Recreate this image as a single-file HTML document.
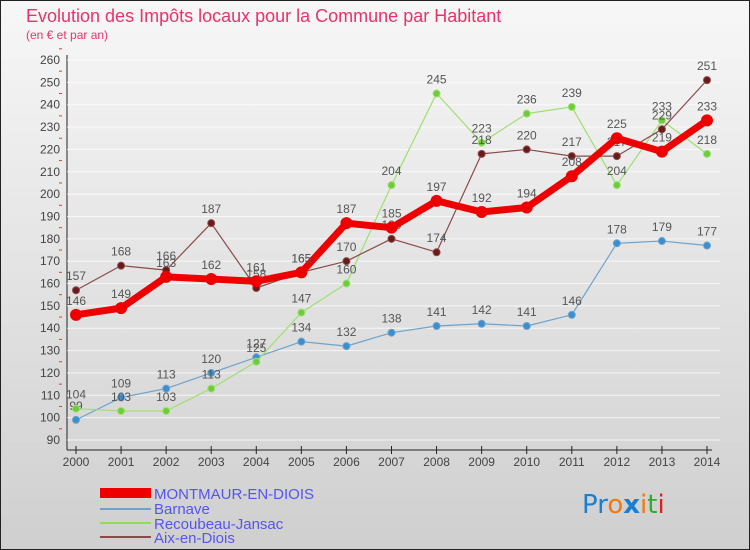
<!DOCTYPE html>
<html><head><meta charset="utf-8"><style>
body{margin:0;width:750px;height:550px;overflow:hidden;font-family:"Liberation Sans",sans-serif}
svg{display:block}
</style></head><body>
<svg id="chart" width="750" height="550" xmlns="http://www.w3.org/2000/svg">
<defs><linearGradient id="bg" x1="0" y1="0" x2="0" y2="1"><stop offset="0" stop-color="#f7f7f7"/><stop offset="1" stop-color="#cfcfcf"/></linearGradient></defs>
<rect x="0.5" y="0.5" width="749" height="549" fill="url(#bg)" stroke="#222"/>
<text x="26" y="22" font-size="18" fill="#e8336a">Evolution des Impôts locaux pour la Commune par Habitant</text>
<text x="26" y="39" font-size="12" fill="#e8336a">(en € et par an)</text>
<g id="axes"></g>
<g id="series"></g>
<g id="legend">
<rect x="100" y="488" width="51" height="10" fill="#e00"/>
<text x="154" y="499" font-size="15" fill="#5555ee">MONTMAUR-EN-DIOIS</text>
<rect x="100" y="508" width="51" height="2" fill="#6fa3cc"/>
<text x="154" y="514" font-size="15" fill="#5555ee">Barnave</text>
<rect x="100" y="522" width="51" height="2" fill="#8fdc5a"/>
<text x="154" y="529" font-size="15" fill="#5555ee">Recoubeau-Jansac</text>
<rect x="100" y="536" width="51" height="2" fill="#8b4a4a"/>
<text x="154" y="543" font-size="15" fill="#5555ee">Aix-en-Diois</text>
</g>
<text x="582" y="513" font-size="26" font-family="DejaVu Sans,sans-serif"><tspan fill="#1a7fd0">Pr</tspan><tspan fill="#f07a10">o</tspan><tspan fill="#1a7fd0" font-weight="bold">x</tspan><tspan fill="#f07a10">i</tspan><tspan fill="#33aa33">t</tspan><tspan fill="#e02020">i</tspan></text>
</svg>
<script>
const years=[2000,2001,2002,2003,2004,2005,2006,2007,2008,2009,2010,2011,2012,2013,2014];
const montmaur=[146,149,163,162,161,165,187,185,197,192,194,208,225,219,233];
const barnave=[99,109,113,120,127,134,132,138,141,142,141,146,178,179,177];
const recoubeau=[104,103,103,113,125,147,160,204,245,223,236,239,204,233,218];
const aix=[157,168,166,187,158,165,170,180,174,218,220,217,217,229,251];
const yTicks=[90,100,110,120,130,140,150,160,170,180,190,200,210,220,230,240,250,260];
const NS="http://www.w3.org/2000/svg";
function X(i){return 76+i*(707-76)/(years.length-1);}
function Y(v){return 60+(260-v)*(440-60)/170;}
function mk(t,a,p){const e=document.createElementNS(NS,t);for(const k in a)e.setAttribute(k,a[k]);p.appendChild(e);return e;}
const ax=document.getElementById('axes');
const yl=mk('line',{x1:67,y1:55,x2:67,y2:450,stroke:'#222'},ax);


yTicks.forEach(v=>{
 const g=mk('line',{x1:67,y1:Y(v),x2:720,y2:Y(v),stroke:'#fff','stroke-width':1,'stroke-opacity':0.7},ax);
 
 
 const t=mk('text',{x:60,y:Y(v)+4,'font-size':12,'text-anchor':'end',fill:'#444'},ax);
 
 
 t.textContent=v;
 const m=mk('line',{x1:59,y1:Y(v+5),x2:62,y2:Y(v+5),stroke:'#e33'},ax);
 
 
});
const xl=mk('line',{x1:67,y1:450,x2:712,y2:450,stroke:'#222'},ax);


years.forEach((y,i)=>{
 const k=mk('line',{x1:X(i),y1:446,x2:X(i),y2:454,stroke:'#222'},ax);
 
 
 const t=mk('text',{x:X(i),y:466,'font-size':12,'text-anchor':'middle',fill:'#444'},ax);
 
 
 t.textContent=y;
});
const sg=document.getElementById('series');
function draw(vals,name,color,dot,w,r){
 const g=mk('g',{},sg);
 
 
 const p=mk('polyline',{points:vals.map((v,i)=>X(i)+','+Y(v)).join(' '),fill:'none',stroke:color,'stroke-width':w,'stroke-linejoin':'round'},g);
 
 
 vals.forEach((v,i)=>{
  const c=mk('circle',{cx:X(i),cy:Y(v),r:r,fill:dot,stroke:color,'stroke-width':1},g);
  
  
  const t=mk('text',{x:X(i),y:Y(v)-10,'font-size':12,'text-anchor':'middle',fill:'#555'},g);
  
  
  t.textContent=v;
 });
}
draw(barnave,'barnave','#6fa3cc','#3a8fd0',1.2,3.5);
draw(recoubeau,'recoubeau','#9ee070','#6ccc3a',1.2,3.5);
draw(aix,'aix','#8b4a4a','#6a1a1a',1.2,3.5);
draw(montmaur,'montmaur','#ee0000','#ee0000',7,5.5);
</script>
</body></html>
